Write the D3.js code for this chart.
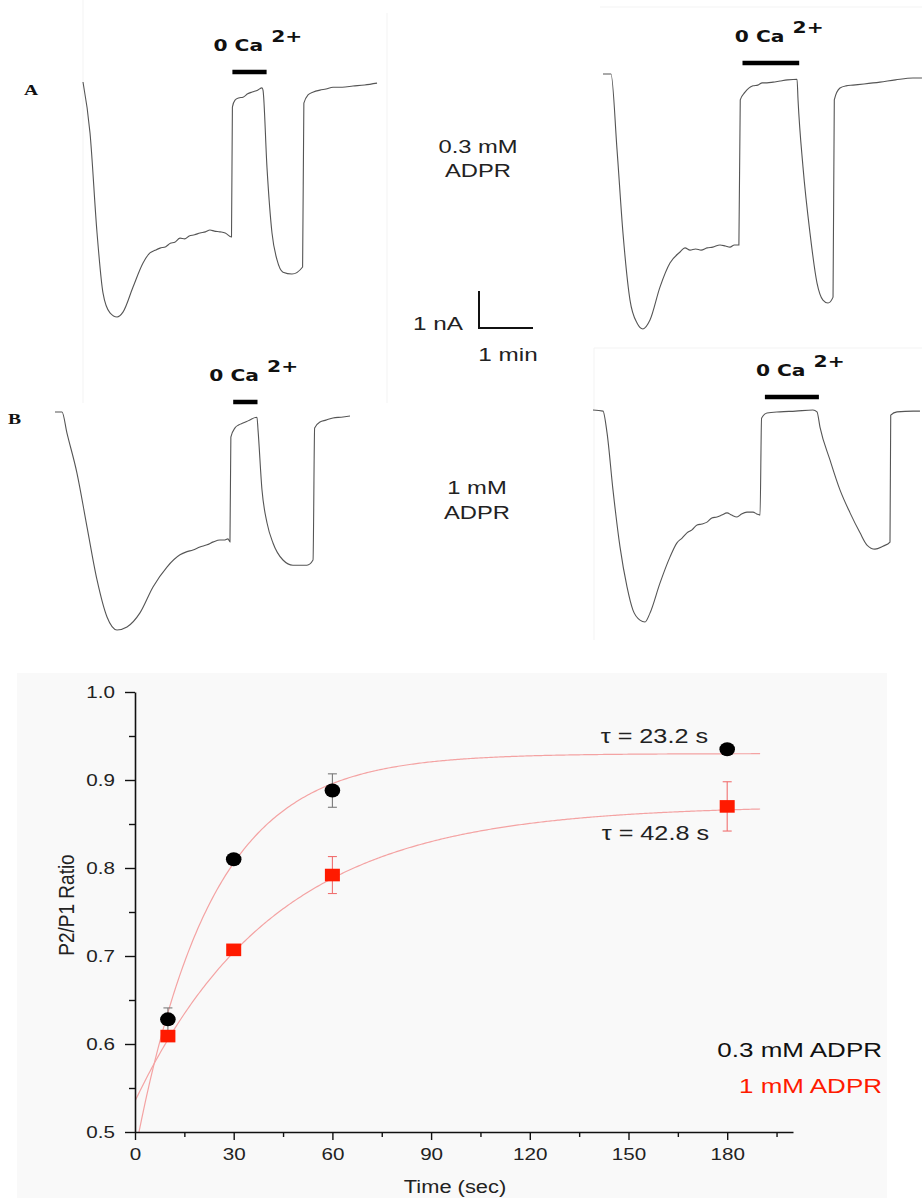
<!DOCTYPE html>
<html>
<head>
<meta charset="utf-8">
<script src="https://cdn.jsdelivr.net/npm/d3@7"></script>
<style>
body { margin: 0; background: #fff; }
svg { display: block; font-family: "Liberation Sans", Arial, sans-serif; }
</style>
</head>
<body>
<svg id="fig" width="922" height="1198"></svg>
<script>
// ---------- data: current traces, [time (s), current (nA)] ----------
const traceA03 = [[0,0],[7.8,-1.38],[15.6,-4.08],[22.2,-5.70],[30,-6.24],[37.8,-6.35],[44.4,-6.22],[55.6,-5.54],[66.7,-4.89],[74.4,-4.62],[80,-4.55],[85.6,-4.49],[92,-4.45],[97,-4.36],[102,-4.33],[107.8,-4.22],[113,-4.24],[118,-4.16],[124,-4.13],[130,-4.08],[136,-4.05],[141.1,-4.00],[146,-4.03],[152.2,-4.05],[158,-4.08],[165,-4.19],[166,-0.68],[168.9,-0.49],[173,-0.43],[177.8,-0.41],[183,-0.32],[188,-0.27],[194,-0.22],[198.9,-0.16],[200,-0.22],[204.4,-2.30],[210,-4.08],[215.6,-4.81],[222.2,-5.14],[232.2,-5.19],[244,-5.00],[245.4,-0.57],[250,-0.35],[256,-0.27],[263.3,-0.22],[270,-0.19],[277.8,-0.14],[288,-0.14],[300,-0.11],[313,-0.08],[326.7,-0.03]];
const traceA1 = [[0,0],[8.9,0],[15.6,-2.05],[22.2,-4.3],[30,-6.11],[37.8,-6.73],[44.4,-6.89],[52.2,-6.65],[63.3,-5.76],[74.4,-5.11],[85.6,-4.81],[91.1,-4.70],[96.7,-4.76],[103,-4.73],[109,-4.76],[115.6,-4.70],[122,-4.68],[130,-4.62],[136,-4.65],[141.1,-4.68],[146,-4.62],[151,-4.62],[152.5,-0.70],[157.8,-0.49],[162,-0.38],[166.7,-0.32],[172,-0.30],[177,-0.24],[182.2,-0.24],[189,-0.22],[196.7,-0.19],[205,-0.16],[215.6,-0.14],[216.7,-0.70],[222.2,-2.51],[230,-4.30],[237.8,-5.65],[244.4,-6.11],[250,-6.19],[255.6,-6.03],[257,-0.70],[263.3,-0.38],[270,-0.32],[277.8,-0.30],[290,-0.27],[307.8,-0.22],[325,-0.16],[344.4,-0.11],[354.4,-0.11]];
const traceB03 = [[0,0],[7.8,0],[13.3,-0.57],[24.4,-1.65],[35.6,-3.11],[46.7,-4.54],[57.8,-5.54],[68.9,-5.89],[80,-5.81],[94.4,-5.43],[108.9,-4.73],[124.4,-4.19],[138.9,-3.86],[146,-3.78],[153.3,-3.73],[161,-3.65],[168.9,-3.59],[176,-3.51],[183.3,-3.46],[188,-3.46],[192.2,-3.43],[194.4,-3.51],[195.4,-0.68],[200,-0.43],[204,-0.35],[208.9,-0.30],[216,-0.22],[224.4,-0.14],[225.6,-0.49],[230,-2.11],[235.6,-3.0],[242.2,-3.54],[253.3,-4.0],[264.4,-4.14],[280,-4.14],[286.7,-4.0],[288.5,-0.43],[294.4,-0.27],[301,-0.22],[308.9,-0.16],[318,-0.14],[327.8,-0.11]];
const traceB1 = [[0,0],[11.1,-0.03],[15.6,-0.62],[22.2,-2.16],[30,-3.70],[37.8,-4.78],[44.4,-5.41],[52.2,-5.68],[57.8,-5.73],[63.3,-5.49],[74.4,-4.68],[85.6,-3.97],[93.3,-3.59],[99,-3.46],[104.4,-3.32],[110,-3.24],[115.6,-3.11],[121,-3.08],[126.7,-3.03],[132,-2.92],[137.8,-2.89],[143,-2.84],[148.9,-2.78],[154,-2.84],[160,-2.89],[165,-2.81],[171.1,-2.76],[177.8,-2.76],[182,-2.81],[185.6,-2.84],[187.3,-0.22],[193.3,-0.08],[207.8,-0.05],[225,-0.03],[244.4,0],[248.9,-0.05],[252.2,-0.46],[263.3,-1.35],[274.4,-2.16],[285.6,-2.78],[296.7,-3.32],[304.4,-3.65],[313.3,-3.76],[322.2,-3.68],[330,-3.57],[330.8,-0.14],[337.8,-0.05],[355.6,-0.03],[363.3,-0.03]];

// 0 Ca2+ application windows [start, end] (s)
const zeroCaA03 = [166, 204];
const zeroCaA1 = [155, 218];
const zeroCaB03 = [198, 225];
const zeroCaB1 = [191, 251];

// ---------- data: P2/P1 recovery ----------
const times = [10, 30, 60, 180];
const ratio03 = [0.628, 0.810, 0.888, 0.935];
const err03 = [0.013, 0.003, 0.019, 0.004];
const ratio1 = [0.609, 0.707, 0.792, 0.870];
const err1 = [0.006, 0.003, 0.021, 0.028];
const tau03 = 23.2, tau1 = 42.8;
const plateau03 = 0.930, amp03 = 0.453;
const plateau1 = 0.871, amp1 = 0.336;
const fitEnd = 190;

const xTicks = [0, 30, 60, 90, 120, 150, 180];
const xMinor = [15, 45, 75, 105, 135, 165, 195];
const yTicks = [0.5, 0.6, 0.7, 0.8, 0.9, 1.0];
const yMinor = [0.55, 0.65, 0.75, 0.85, 0.95];

// ---------- drawing ----------
const SX = 1.25; // the figure is horizontally stretched
const svg = d3.select("#fig");

function addText(parent, x, y, str, o = {}) {
    return parent.append("text")
        .attr("transform", `translate(${x},${y}) scale(${o.sx ?? SX},1)`)
        .attr("text-anchor", o.anchor || "start")
        .attr("font-size", o.size || 16)
        .attr("font-family", o.family || null)
        .attr("font-weight", o.weight || null)
        .attr("fill", o.fill || "#222")
        .text(str);
}

// faint frames of the pasted recordings
const frames = [
    [83, 0, 83, 403], [387, 13, 387, 403],
    [600, 7, 922, 7],
    [594, 348, 922, 348], [594, 348, 594, 640]
];
svg.append("g").selectAll("line").data(frames).join("line")
    .attr("x1", d => d[0]).attr("y1", d => d[1])
    .attr("x2", d => d[2]).attr("y2", d => d[3])
    .attr("stroke", "#f3f3f3").attr("stroke-width", 1);

// trace scales: 1 min = 54 px, 1 nA = 37 px
const tScale = d3.scaleLinear().domain([0, 60]).range([0, 54]);
const iScale = d3.scaleLinear().domain([0, 1]).range([0, -37]);
const traceLine = d3.line()
    .x(d => tScale(d[0]))
    .y(d => iScale(d[1]))
    .curve(d3.curveMonotoneX);

const panels = [
    { trace: traceA03, zeroCa: zeroCaA03, ox: 83, oy: 82, barDy: -10 },
    { trace: traceA1, zeroCa: zeroCaA1, ox: 603, oy: 74, barDy: -11 },
    { trace: traceB03, zeroCa: zeroCaB03, ox: 55, oy: 412, barDy: -10 },
    { trace: traceB1, zeroCa: zeroCaB1, ox: 593, oy: 410, barDy: -13 }
];

panels.forEach(p => {
    const g = svg.append("g").attr("transform", `translate(${p.ox},${p.oy})`);
    g.append("path")
        .attr("d", traceLine(p.trace))
        .attr("fill", "none")
        .attr("stroke", "#555")
        .attr("stroke-width", 1.1);

    const x0 = tScale(p.zeroCa[0]), x1 = tScale(p.zeroCa[1]);
    g.append("line")
        .attr("x1", x0).attr("x2", x1)
        .attr("y1", p.barDy).attr("y2", p.barDy)
        .attr("stroke", "#000").attr("stroke-width", 4.5);

    const lbl = addText(g, (x0 + x1) / 2 - 36, p.barDy - 21, "0 Ca", {
        size: 15, weight: "bold", family: "DejaVu Sans", fill: "#111", sx: 1.35
    });
    lbl.append("tspan").attr("dx", 6).attr("dy", -9).text("2+");
});

addText(svg, 24, 95, "A", { size: 14, weight: "bold", family: "Liberation Serif", fill: "#111", sx: 1.4 });
addText(svg, 8, 424, "B", { size: 14, weight: "bold", family: "Liberation Serif", fill: "#111", sx: 1.4 });

addText(svg, 478, 153, "0.3 mM", { size: 18, anchor: "middle", sx: 1.32 });
addText(svg, 478, 177, "ADPR", { size: 18, anchor: "middle", sx: 1.32 });
addText(svg, 477, 494, "1 mM", { size: 18, anchor: "middle", sx: 1.32 });
addText(svg, 477, 519, "ADPR", { size: 18, anchor: "middle", sx: 1.32 });

// scale bar
const sb = svg.append("g").attr("transform", "translate(479,328)");
sb.append("path")
    .attr("d", `M0,${iScale(1)}V0H${tScale(60)}`)
    .attr("fill", "none").attr("stroke", "#111").attr("stroke-width", 2);
addText(sb, -16, 2, "1 nA", { size: 18, anchor: "end", sx: 1.35 });
addText(sb, 29, 33, "1 min", { size: 18, anchor: "middle", sx: 1.35 });

// ---------- recovery plot ----------
svg.append("rect")
    .attr("x", 17).attr("y", 673).attr("width", 870).attr("height", 525)
    .attr("fill", "#f9f9f9");

const x = d3.scaleLinear().domain([0, 200]).range([135, 793]);
const y = d3.scaleLinear().domain([0.5, 1.0]).range([1132, 692]);

svg.append("clipPath").attr("id", "plotClip")
    .append("rect").attr("x", 135).attr("y", 660).attr("width", 700).attr("height", 472);

const fitLine = d3.line().x(d => x(d[0])).y(d => y(d[1]));
const fits = [
    { A: plateau03, B: amp03, tau: tau03 },
    { A: plateau1, B: amp1, tau: tau1 }
];
svg.append("g").attr("clip-path", "url(#plotClip)")
    .selectAll("path").data(fits).join("path")
    .attr("d", f => fitLine(d3.range(0, fitEnd + 0.5, 0.5).map(t => [t, f.A - f.B * Math.exp(-t / f.tau)])))
    .attr("fill", "none")
    .attr("stroke", "#f4a3a3")
    .attr("stroke-width", 1.2);

// axes
const xAxisG = svg.append("g").attr("transform", `translate(0,${y(0.5)})`);
xAxisG.call(d3.axisBottom(x).tickValues(xMinor).tickSize(5).tickFormat(""))
    .call(g => g.select(".domain").remove());
xAxisG.append("g").call(d3.axisBottom(x).tickValues(xTicks).tickSize(8).tickSizeOuter(0).tickFormat(d3.format("d")));

const yAxisG = svg.append("g").attr("transform", `translate(${x(0)},0)`);
yAxisG.call(d3.axisLeft(y).tickValues(yMinor).tickSize(6).tickFormat(""))
    .call(g => g.select(".domain").remove());
yAxisG.append("g").call(d3.axisLeft(y).tickValues(yTicks).tickSize(10).tickSizeOuter(0).tickFormat(d3.format(".1f")));

svg.selectAll(".domain").attr("stroke", "#111").attr("stroke-width", 1.6);
svg.selectAll(".tick line").attr("stroke", "#111").attr("stroke-width", 1.4);
svg.selectAll(".tick text")
    .attr("font-size", 16.5)
    .attr("font-family", "Liberation Sans, Arial, sans-serif")
    .attr("fill", "#222")
    .attr("transform", `scale(${SX},1)`);
xAxisG.selectAll(".tick text").attr("y", 16);
yAxisG.selectAll(".tick text").attr("x", -20 / SX);

addText(svg, 455, 1193, "Time (sec)", { size: 19, anchor: "middle", sx: 1.15 });
svg.append("text")
    .attr("transform", "translate(74,905) rotate(-90) scale(1,1.15)")
    .attr("text-anchor", "middle")
    .attr("font-size", 19)
    .attr("fill", "#222")
    .text("P2/P1 Ratio");

// error bars
function errorBars(vals, errs, color) {
    const g = svg.append("g").attr("stroke", color).attr("stroke-width", 1.1);
    times.forEach((t, i) => {
        const cx = x(t), top = y(vals[i] + errs[i]), bot = y(vals[i] - errs[i]);
        g.append("line").attr("x1", cx).attr("x2", cx).attr("y1", top).attr("y2", bot);
        g.append("line").attr("x1", cx - 4.5).attr("x2", cx + 4.5).attr("y1", top).attr("y2", top);
        g.append("line").attr("x1", cx - 4.5).attr("x2", cx + 4.5).attr("y1", bot).attr("y2", bot);
    });
}
errorBars(ratio03, err03, "#7a7a7a");
errorBars(ratio1, err1, "#f07070");

svg.append("g").selectAll("ellipse").data(times).join("ellipse")
    .attr("cx", d => x(d))
    .attr("cy", (d, i) => y(ratio03[i]))
    .attr("rx", 7.8).attr("ry", 7)
    .attr("fill", "#000");

svg.append("g").selectAll("rect").data(times).join("rect")
    .attr("x", d => x(d) - 7.5)
    .attr("y", (d, i) => y(ratio1[i]) - 6.3)
    .attr("width", 15).attr("height", 12.6)
    .attr("fill", "#ff1a00");

addText(svg, 708, 743, `τ = ${tau03} s`, { size: 21, anchor: "end", sx: 1.2 });
addText(svg, 709, 840, `τ = ${tau1} s`, { size: 21, anchor: "end", sx: 1.2 });

addText(svg, 882, 1057, "0.3 mM ADPR", { size: 20, anchor: "end", fill: "#111", sx: 1.3 });
addText(svg, 882, 1093, "1 mM ADPR", { size: 20, anchor: "end", fill: "#ff1a00", sx: 1.3 });
</script>
</body>
</html>
